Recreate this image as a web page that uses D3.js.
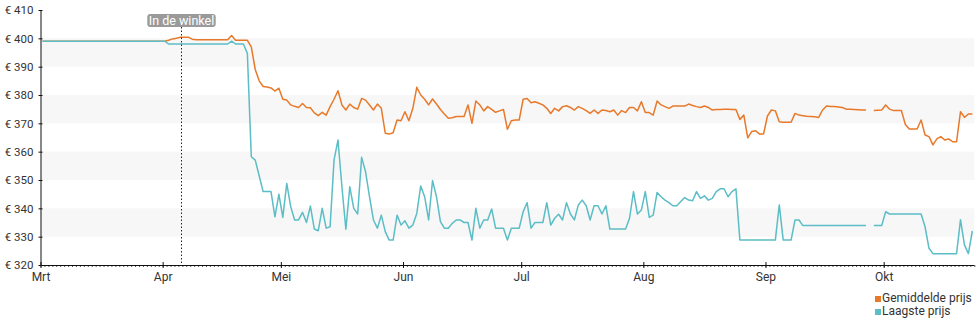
<!DOCTYPE html>
<html>
<head>
<meta charset="utf-8">
<script src="https://cdn.jsdelivr.net/npm/d3@7"></script>
<style>
  body { margin: 0; background: #fff; }
  svg { display: block; font-family: Roboto, "Noto Sans", sans-serif; }
</style>
</head>
<body>
<svg id="chart" width="980" height="325"></svg>
<script>
// Daily price history, one value per day starting at startDate (null = no data)
const startDate = "2023-03-01";
const endDate = "2023-10-24";
const storeDate = "2023-04-05T16:00";
const storeLabel = "In de winkel";
const monthNames = ["Jan", "Feb", "Mrt", "Apr", "Mei", "Jun", "Jul", "Aug", "Sep", "Okt", "Nov", "Dec"];
const yTicks = [320, 330, 340, 350, 360, 370, 380, 390, 400, 410];
const seriesNames = ["Gemiddelde prijs", "Laagste prijs"];

const avgPrice = [
  399, 399, 399, 399, 399, 399, 399, 399, 399, 399,
  399, 399, 399, 399, 399, 399, 399, 399, 399, 399,
  399, 399, 399, 399, 399, 399, 399, 399, 399, 399,
  399, 399, 399.3, 399.8, 400, 400.4, 400.4, 400.4, 399.7, 399.5,
  399.5, 399.5, 399.5, 399.5, 399.5, 399.5, 399.5, 399.5, 401, 399.3,
  399.3, 399.3, 399.3, 397, 389, 385, 383, 382.8, 382.5, 381.4,
  382.4, 378.5, 378.2, 376.5, 376, 375.6, 377, 375.6, 375.5, 373.7,
  372.7, 373.9, 372.9, 375.9, 378.5, 381.5, 376.5, 374.7, 376.8, 375.6,
  375, 378.8, 378.2, 376.5, 374.7, 376.8, 375.3, 366.5, 366.2, 366.7,
  371.2, 370.9, 374.1, 370.9, 375.3, 382.7, 380, 378.5, 376.5, 378.6,
  376.8, 374.9, 373.3, 371.8, 372, 372.4, 372.4, 372.4, 376.5, 370,
  377.9, 376.5, 374.4, 375.9, 374.9, 373.9, 374.4, 374.9, 367.9, 370.9,
  371.2, 371.2, 378.5, 378.8, 377.3, 377.6, 377.1, 376.5, 375.3, 373.5,
  375.3, 374.4, 375.9, 376.2, 375.6, 374.7, 375.9, 375.3, 374.5, 373.5,
  374.7, 373.5, 374.7, 374.5, 374.1, 374.7, 372.9, 374.5, 373.8, 375.6,
  375.6, 374.4, 377.6, 373.8, 373.8, 372.9, 377.9, 376.5, 375.9, 375.3,
  376.1, 376.1, 376.1, 376.1, 376.8, 376.3, 375.9, 375.6, 376.1, 375.6,
  374.7, 374.9, 374.9, 375, 375, 374.9, 374.9, 371.4, 372.9, 364.9,
  367.1, 367.4, 366.2, 366.2, 372.6, 374.7, 374.4, 370.6, 370.4, 370.4,
  370.4, 373.5, 372.9, 372.7, 372.5, 372.4, 372.3, 372.1, 374.7, 376.1,
  375.9, 375.9, 375.8, 375.6, 375, 375, 374.9, 374.8, 374.7, 374.7,
  null, 374.5, 374.6, 374.7, 376.5, 375, 374.5, 374.5, 374.5, 369.6,
  368, 368, 368, 371.2, 365.9, 365.3, 362.4, 364.5, 365.3, 364.1,
  364.5, 363.5, 363.5, 374.1, 372.1, 373.3, 373.3
];

const lowPrice = [
  399, 399, 399, 399, 399, 399, 399, 399, 399, 399,
  399, 399, 399, 399, 399, 399, 399, 399, 399, 399,
  399, 399, 399, 399, 399, 399, 399, 399, 399, 399,
  399, 399, 398, 398, 398, 398, 398, 398, 398, 398,
  398, 398, 398, 398, 398, 398, 398, 398, 399, 398,
  398, 398, 394.7, 358.2, 357, 351.5, 345.9, 345.9, 345.9, 337,
  345, 336.8, 348.8, 340.6, 335.9, 335.9, 338.6, 335, 340.8, 332.7,
  332.1, 340, 333, 333.5, 357, 364.1, 347.6, 332.6, 347.6, 340,
  338, 358, 352.9, 344.1, 335.9, 333, 337.6, 331.8, 328.8, 328.8,
  337.6, 334.1, 335.6, 333, 334.1, 338.2, 347.9, 344.1, 335.9, 349.8,
  344.1, 335.3, 333, 333, 334.7, 335.9, 335.9, 335, 335, 328.8,
  340, 333, 335.9, 335.9, 339.8, 333, 333, 333, 328.8, 333,
  333, 333, 338.8, 342, 333, 335, 335, 335, 342, 334.1,
  336.5, 337.9, 335.9, 342, 338, 335.9, 341.2, 342.9, 340.9, 335.9,
  340.9, 340.9, 338, 340.9, 332.7, 332.7, 332.7, 332.7, 332.7, 336.5,
  345.9, 338, 339.4, 345.9, 336.8, 337.6, 345.6, 344.1, 342.9, 342,
  340.9, 340.9, 342.4, 343.8, 342.9, 342.7, 345.9, 343.5, 344.4, 342.9,
  343.5, 345.9, 346.9, 346.9, 344.1, 345.9, 346.9, 328.8, 328.8, 328.8,
  328.8, 328.8, 328.8, 328.8, 328.8, 328.8, 328.8, 341.2, 328.8, 328.8,
  328.8, 335.9, 335.9, 333.9, 333.9, 333.9, 333.9, 333.9, 333.9, 333.9,
  333.9, 333.9, 333.9, 333.9, 333.9, 333.9, 333.9, 333.9, 333.9, 333.9,
  null, 333.9, 333.9, 333.9, 338.8, 338, 338, 338, 338, 338,
  338, 338, 338, 338, 333.5, 325.9, 324, 324, 324, 324,
  324, 324, 324, 336, 327.1, 324, 332
];

const colors = ["#e8792a", "#5bbdc5"];

const svg = d3.select("#chart");
const parseDay = d3.utcParse("%Y-%m-%d");
const parseTime = d3.utcParse("%Y-%m-%dT%H:%M");
const t0 = parseDay(startDate);
const t1 = parseDay(endDate);

const plot = { left: 40.5, right: 974.3, top: 10, bottom: 265 };

const x = d3.scaleUtc().domain([t0, t1]).range([plot.left, plot.right]);
const y = d3.scaleLinear().domain([320, 410]).range([plot.bottom, plot.top]);

// Each reading is taken at midday
const dayTime = i => d3.utcHour.offset(t0, i * 24 + 12);

// Alternating horizontal bands
const bands = d3.pairs(yTicks).filter((p, i) => i % 2 === 1);
svg.append("g").selectAll("rect")
  .data(bands)
  .join("rect")
  .attr("x", plot.left)
  .attr("width", plot.right - plot.left)
  .attr("y", d => y(d[1]))
  .attr("height", d => y(d[0]) - y(d[1]))
  .attr("fill", "#f7f7f7");

// Price lines
const line = d3.line()
  .defined(d => d != null)
  .x((d, i) => x(dayTime(i)))
  .y(d => y(d));

[avgPrice, lowPrice].forEach((series, k) => {
  svg.append("path")
    .datum(series)
    .attr("fill", "none")
    .attr("stroke", colors[k])
    .attr("stroke-width", 1.5)
    .attr("stroke-linejoin", "round")
    .attr("d", line);
});

// Y axis
const yAxis = svg.append("g")
  .attr("transform", `translate(${plot.left},0)`)
  .call(d3.axisLeft(y).tickValues(yTicks).tickSizeOuter(0).tickSizeInner(2).tickPadding(5)
    .tickFormat(d => "€ " + d));
yAxis.select(".domain").attr("stroke", "#111");
yAxis.selectAll(".tick line").attr("x1", 2).attr("x2", -2).attr("stroke", "#111");
yAxis.selectAll(".tick text")
  .attr("font-size", 11.5).attr("fill", "#333").attr("font-family", "Roboto");

// X axis: daily minor ticks and monthly major ticks
const xMinor = svg.append("g")
  .attr("transform", `translate(0,${plot.bottom})`)
  .call(d3.axisBottom(x).ticks(d3.utcDay.every(1)).tickSizeOuter(0).tickSizeInner(2).tickFormat(""));
xMinor.select(".domain").remove();
xMinor.selectAll(".tick line").attr("stroke", "#555");

const xAxis = svg.append("g")
  .attr("transform", `translate(0,${plot.bottom})`)
  .call(d3.axisBottom(x).ticks(d3.utcMonth.every(1)).tickSizeOuter(0).tickSizeInner(3).tickPadding(4)
    .tickFormat(d => monthNames[d.getUTCMonth()]));
xAxis.select(".domain").attr("stroke", "#111").attr("d", `M${plot.left},0.5H${plot.right}`);
xAxis.selectAll(".tick line").attr("y1", -3).attr("y2", 3).attr("stroke", "#111");
xAxis.selectAll(".tick text")
  .attr("font-size", 12).attr("fill", "#333").attr("font-family", "Roboto");

// Store availability marker
const sx = Math.round(x(parseTime(storeDate))) + 0.5;
svg.append("line")
  .attr("x1", sx).attr("x2", sx)
  .attr("y1", 27).attr("y2", plot.bottom)
  .attr("stroke", "#222").attr("stroke-width", 1)
  .attr("stroke-dasharray", "1.5,2");
const tag = svg.append("g");
const tagText = tag.append("text")
  .attr("x", sx).attr("y", 25)
  .attr("text-anchor", "middle")
  .attr("font-size", 12.5)
  .attr("fill", "#fff")
  .text(storeLabel);
const bb = tagText.node().getBBox();
tag.insert("rect", "text")
  .attr("x", bb.x - 1.5).attr("y", 14)
  .attr("width", bb.width + 3).attr("height", 13)
  .attr("rx", 3)
  .attr("fill", "#9a9a9a");

// Legend
const legend = svg.append("g").attr("transform", "translate(875,0)");
seriesNames.forEach((name, k) => {
  const by = 302 + k * 13;
  legend.append("rect")
    .attr("x", 0).attr("y", by - 6)
    .attr("width", 6).attr("height", 6)
    .attr("fill", colors[k]);
  legend.append("text")
    .attr("x", 7).attr("y", by)
    .attr("font-size", 12)
    .attr("fill", "#333")
    .text(name);
});
</script>
</body>
</html>
